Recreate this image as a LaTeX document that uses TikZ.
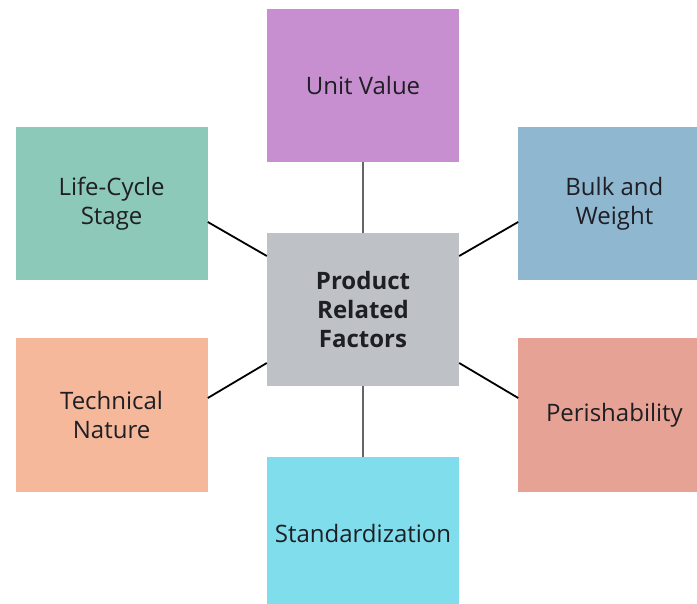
\documentclass[tikz,border=0pt]{standalone}
\usepackage{fontspec}
\setmainfont{Open Sans}
\usepackage{tikz}
\usetikzlibrary{positioning}
\usepackage{xcolor}
\definecolor{centre}{RGB}{190,194,199}
\definecolor{unitval}{RGB}{199,143,208}
\definecolor{lifecyc}{RGB}{140,201,184}
\definecolor{bulkwt}{RGB}{143,184,208}
\definecolor{technat}{RGB}{245,184,154}
\definecolor{perish}{RGB}{230,162,148}
\definecolor{standard}{RGB}{128,221,236}
\definecolor{ink}{RGB}{30,30,36}

\begin{document}
\begin{tikzpicture}[
  x=1pt, y=-1pt,
  factor/.style={minimum width=192pt, minimum height=153pt, inner sep=0pt, align=center,
    text=ink, font=\fontsize{24}{29}\selectfont},
  hub/.style={factor, fill=centre, font=\fontsize{24}{29}\selectfont\bfseries},
  vlink/.style={draw=black!60, line width=1.8pt},
  dlink/.style={draw=black, line width=1.8pt}
]
\useasboundingbox (0,0) rectangle (697,604);
\node[hub] (prf) at (363,309.5) {Product\\Related\\Factors};
\node[factor, fill=unitval, above=71pt of prf] (uv) {Unit Value};
\node[factor, fill=standard, below=71pt of prf] (std) {Standardization};
\node[factor, fill=lifecyc, left=59pt of prf, yshift=105.5pt] (lcs) {Life-Cycle\\Stage};
\node[factor, fill=bulkwt, right=59pt of prf, yshift=105.5pt] (bw) {Bulk and\\Weight};
\node[factor, fill=technat, left=59pt of prf, yshift=-105.5pt] (tn) {Technical\\Nature};
\node[factor, fill=perish, right=59pt of prf, yshift=-105.5pt] (per) {Perishability};
% links to the hub
\draw[vlink] (uv) -- (prf);
\draw[vlink] (std) -- (prf);
\draw[dlink] ([yshift=-18pt]lcs.east) -- ([yshift=53.5pt]prf.west);
\draw[dlink] ([yshift=-18pt]bw.west) -- ([yshift=53.5pt]prf.east);
\draw[dlink] ([yshift=17pt]tn.east) -- ([yshift=-53.5pt]prf.west);
\draw[dlink] ([yshift=17pt]per.west) -- ([yshift=-53.5pt]prf.east);
\end{tikzpicture}
\end{document}
